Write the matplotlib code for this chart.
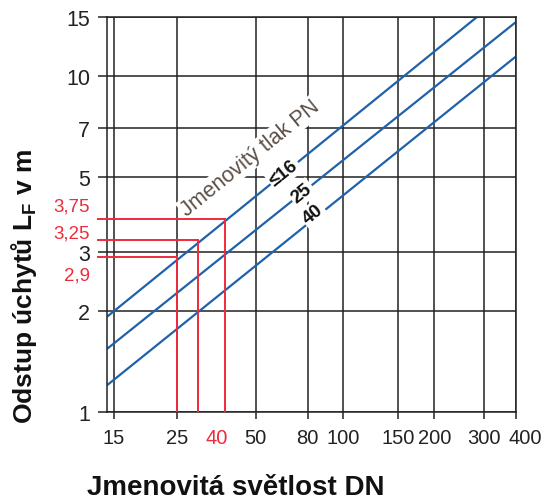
import numpy as np
import matplotlib.pyplot as plt
from matplotlib.ticker import FixedLocator, FixedFormatter, NullLocator

plt.rcParams['font.family'] = ['Liberation Sans', 'DejaVu Sans']
plt.rcParams['mathtext.fontset'] = 'custom'
plt.rcParams['mathtext.rm'] = 'Liberation Sans'
plt.rcParams['mathtext.bf'] = 'Liberation Sans:bold'

# Stupnice DN v nomogramu neni presne logaritmicka - poloha znacek (podil sirky osy)
DN_STUPNICE = [10, 15, 25, 32, 40, 50, 80, 100, 150, 200, 300, 400, 1000]
DN_POLOHA = [-0.105, 0.017, 0.172, 0.222, 0.289, 0.364, 0.491, 0.577, 0.711, 0.800, 0.922, 1.0, 1.275]

DN_TICKS = [15, 25, 50, 80, 100, 150, 200, 300, 400]
L_TICKS = [1, 2, 3, 5, 7, 10, 15]

# primky pro jmenovity tlak PN: [DN zacatek, DN konec], [L zacatek, L konec]
PN_LABELS = ['≤16', '25', '40']
PN_DN = [[14.2, 283], [14.2, 400], [14.2, 400]]
PN_L = [[1.92, 15], [1.54, 14.5], [1.20, 11.45]]

# odectene hodnoty (cervene)
READ_DN = [25, 32, 40]
READ_L = [2.9, 3.25, 3.75]
READ_LABELS = ['2,9', '3,25', '3,75']

BLUE = '#1f62ab'
RED = '#ee2b3b'
GRID = '#222222'
TICK_FS = 14.5


def dn_na_polohu(x):
    x = np.clip(np.asarray(x, dtype=float), 1e-3, None)
    return np.interp(np.log10(x), np.log10(DN_STUPNICE), DN_POLOHA)


def poloha_na_dn(p):
    return 10 ** np.interp(np.asarray(p, dtype=float), DN_POLOHA, np.log10(DN_STUPNICE))


fig = plt.figure(figsize=(5.52, 5.02), dpi=100)
ax = fig.add_axes([0.1938, 0.1779, 0.7410, 0.7862])

ax.set_xscale('function', functions=(dn_na_polohu, poloha_na_dn))
ax.set_yscale('log')
ax.set_xlim(float(poloha_na_dn(0.0)), 400)
ax.set_ylim(1, 15)

# posledni popisek (400) je v predloze posunuty doprava, kresli se zvlast
ax.xaxis.set_major_locator(FixedLocator(DN_TICKS))
ax.xaxis.set_major_formatter(FixedFormatter([str(v) for v in DN_TICKS[:-1]] + ['']))
ax.xaxis.set_minor_locator(NullLocator())
ax.yaxis.set_major_locator(FixedLocator(L_TICKS))
ax.yaxis.set_major_formatter(FixedFormatter([str(v) for v in L_TICKS]))
ax.yaxis.set_minor_locator(NullLocator())

ax.grid(True, color=GRID, lw=1.1, zorder=1)
ax.set_axisbelow(True)
for s in ax.spines.values():
    s.set_color(GRID)
    s.set_linewidth(1.1)
ax.tick_params(axis='x', direction='out', length=4.7, width=1.1, color=GRID,
               pad=7, labelsize=TICK_FS, labelcolor='#222222')
ax.tick_params(axis='y', direction='out', length=6.5, width=1.1, color=GRID,
               pad=5.8, labelsize=TICK_FS + 1, labelcolor='#222222')
ax.annotate(str(DN_TICKS[-1]), xy=(DN_TICKS[-1], 0), xycoords=ax.get_xaxis_transform(),
            xytext=(6.8, -11.7), textcoords='offset points',
            ha='center', va='top', color='#222222', fontsize=TICK_FS)

# primky PN
for dn, l in zip(PN_DN, PN_L):
    ax.plot(dn, l, color=BLUE, lw=1.6, zorder=2.5, solid_capstyle='butt')

# popisky primek (na bilem pozadi, preruseni car)
popis_xy = [(64.5, 5.15), (75.9, 4.48), (82.7, 3.88)]
for (x, y), t in zip(popis_xy, PN_LABELS):
    ax.text(x, y, t, rotation=39, rotation_mode='anchor', ha='center', va='center',
            fontsize=13.5, fontweight='bold', color='#111111', zorder=3,
            bbox=dict(fc='white', ec='none', pad=1.5))
ax.text(47.9, 5.70, 'Jmenovitý tlak PN', rotation=39, rotation_mode='anchor',
        ha='center', va='center', fontsize=15.5, color='#5c5048', zorder=3,
        bbox=dict(fc='white', ec='none', pad=1.0))

# cervene odecteni
x_od = float(poloha_na_dn(-0.022))
for dn, l in zip(READ_DN, READ_L):
    ax.plot([x_od, dn], [l, l], color=RED, lw=1.4, zorder=3.5, clip_on=False)
    ax.plot([dn, dn], [1, l], color=RED, lw=1.4, zorder=3.5)

posun = [-13.5, 5, 9.5]
for l, t, dy in zip(READ_L, READ_LABELS, posun):
    ax.annotate(t, xy=(-0.042, l), xycoords=ax.get_yaxis_transform(),
                xytext=(0, dy), textcoords='offset points',
                ha='right', va='center', color=RED, fontsize=13.5)
ax.annotate('40', xy=(40, 0), xycoords=ax.get_xaxis_transform(),
            xytext=(-6, -11.7), textcoords='offset points',
            ha='center', va='top', color=RED, fontsize=TICK_FS)

fig.text(0.4266, 0.013, 'Jmenovitá světlost DN', ha='center', va='baseline',
         fontsize=20, fontweight='bold', color='#111111')
fig.text(0.058, 0.430, r'Odstup úchytů L$_\mathbf{F}$ v m', rotation=90,
         rotation_mode='anchor', ha='center', va='baseline',
         fontsize=19, fontweight='bold', color='#111111')

fig.savefig('out.png', dpi=100)
